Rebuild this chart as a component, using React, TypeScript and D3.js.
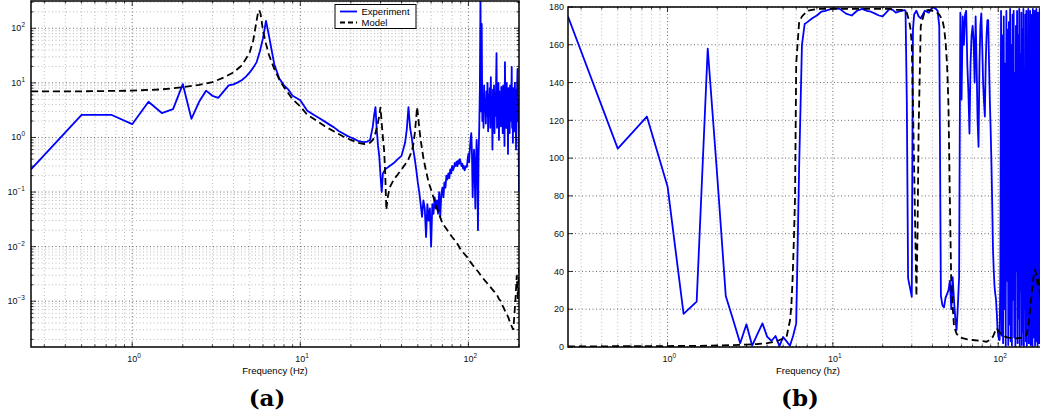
import React, { useEffect, useRef } from "react";
import * as d3 from "d3";

// measured frequency response (0.25 Hz steps at low freq, 1 Hz above 46 Hz)
const expFreq = [
  0.25, 0.5, 0.75, 1, 1.25, 1.5, 1.75, 2, 2.25, 2.5,
  2.75, 3, 3.25, 3.5, 3.75, 4, 4.25, 4.5, 4.75, 5,
  5.25, 5.5, 5.75, 6, 6.25, 6.5, 6.75, 7, 7.5, 8,
  8.5, 9, 10, 11, 12, 13, 14, 15, 16, 17,
  18, 19, 20, 21, 22, 23, 24, 25, 26, 27,
  27.5, 28, 28.5, 29, 29.5, 30, 30.5, 31, 32, 33,
  34, 35, 36, 38, 40, 42, 43, 44, 45, 46,
  47, 48, 49, 50, 51, 52, 53, 54, 55, 56,
  57, 58, 59, 60, 61, 62, 63, 64, 65, 66,
  67, 68, 69, 70, 71, 72, 73, 74, 75, 76,
  77, 78, 79, 80, 81, 82, 83, 84, 85, 86,
  87, 88, 89, 90, 91, 92, 93, 94, 95, 96,
  97, 98, 99, 100, 101, 102, 103, 104, 105, 106,
  107, 108, 109, 110, 111, 112, 113, 114, 115, 116,
  117, 118, 119, 120, 121, 122, 123, 124, 125, 126,
  127, 128, 129, 130, 131, 132, 133, 134, 135, 136,
  137, 138, 139, 140, 141, 142, 143, 144, 145, 146,
  147, 148, 149, 150, 151, 152, 153, 154, 155, 156,
  157, 158, 159, 160, 161, 162, 163, 164, 165, 166,
  167, 168, 169, 170, 171, 172, 173, 174, 175, 176,
  177, 178, 179, 180, 181, 182, 183, 184, 185, 186,
  187, 188, 189, 190, 191, 192, 193, 194, 195, 196,
  197, 198, 199, 200,
];

const expMag = [
  0.26, 2.6, 2.6, 1.75, 4.5, 2.8, 3.3, 9.5, 2.2, 4.5,
  7.2, 5.8, 5.3, 7, 9.0, 9.4, 10.2, 11.3, 13, 15.5,
  19, 24, 38, 66, 136, 75, 40, 22, 12, 9,
  7.5, 5.8, 4.8, 3.1, 2.6, 2.25, 1.95, 1.7, 1.5, 1.3,
  1.18, 1.07, 1.0, 0.93, 0.87, 0.84, 0.82, 0.84, 0.9, 1.6,
  2.6, 3.6, 1.4, 0.7, 0.45, 0.2, 0.1, 0.22, 0.26, 0.28,
  0.3, 0.32, 0.34, 0.4, 0.46, 0.8, 1.4, 3.6, 1.5, 1.0,
  0.6, 0.4, 0.25, 0.15, 0.1, 0.06, 0.035, 0.07, 0.05, 0.015,
  0.06, 0.03, 0.05, 0.01, 0.06, 0.04, 0.08, 0.05, 0.07, 0.04,
  0.1, 0.035, 0.09, 0.12, 0.08, 0.15, 0.12, 0.2, 0.17, 0.22,
  0.18, 0.26, 0.22, 0.3, 0.25, 0.28, 0.34, 0.3, 0.36, 0.3,
  0.38, 0.33, 0.4, 0.35, 0.3, 0.33, 0.27, 0.3, 0.25, 0.28,
  0.3, 0.29, 0.4, 0.5, 0.35, 0.6, 0.9, 1.2, 0.5, 0.08,
  0.3, 0.6, 0.2, 0.05, 0.4, 0.9, 0.3, 0.02, 0.5, 1.5,
  8, 400, 3, 120, 2, 6, 1.5, 9, 3, 5,
  1.8, 7, 2.5, 10, 1.3, 6, 3, 8, 1.5, 12.7,
  2, 5, 0.6, 7.5, 3, 9, 1.2, 6, 2.5, 8,
  35, 1.5, 6.5, 3, 10, 0.9, 7, 2, 5.5, 1.6,
  8.4, 3, 6, 1.2, 9, 2.2, 5, 0.7, 24, 3,
  7, 1.5, 10, 2.5, 6, 0.5, 8, 3.5, 5.5, 1.2,
  9, 2, 7, 4, 19.6, 1.5, 6, 0.8, 8, 3,
  5, 1.3, 10, 2.5, 7.5, 0.6, 6, 3, 9, 18,
  2, 5, 1.2, 0.1,
];

const expPhase = [
  175, 105, 122, 85, 17.5, 24, 158, 90, 27, 14,
  2, 12, 0.7, 7, 12.5, 5.5, 3.2, 5.8, 0.5, 5.3,
  3, 0.7, 6, 12.5, 95, 160, 171, 172, 174, 175.5,
  177.5, 178, 179.3, 179, 176.5, 175.5, 178, 179, 178, 177.5,
  176.5, 175.5, 175, 177, 179, 178.5, 177, 177.5, 178, 178.4,
  178, 130, 36.5, 33, 30, 26.6, 168, 176, 178, 175,
  174, 176, 178, 177, 180, 179, 178, 170, 27, 22,
  21, 26, 28, 30, 35, 20, 37, 25, 15, 9,
  22, 37, 177, 131, 175, 160, 176, 178, 150, 135,
  113, 150, 165, 170, 162, 140, 175, 150, 120, 106,
  150, 170, 176.6, 160, 140, 130, 122, 150, 165, 173,
  173, 150, 130, 115, 97, 75, 51, 40, 32, 28,
  25, 18, 10, 6, 4, 3.7, 40, 178, 6, 165,
  2, 175, 20, 150, 0.5, 178, 35, 168, 1, 172,
  12, 179, 3, 160, 0.8, 176, 25, 178, 5, 145,
  0.5, 170, 40, 178, 2, 165, 15, 179, 0.3, 155,
  30, 177, 1, 168, 8, 179, 0.5, 140, 20, 176,
  3, 178, 0.5, 160, 45, 179, 2, 170, 10, 178,
  1, 150, 25, 176, 0.5, 179, 5, 165, 60, 178,
  0.8, 172, 15, 179, 3, 158, 0.5, 177, 30, 170,
  2, 179, 10, 165, 0.5, 178, 40, 175, 1, 179,
  12, 168, 0.6, 178, 5, 160, 20, 179, 1, 176,
  8, 178, 0.5, 170,
];

// model response
const modelFreq = [
  0.25, 0.5, 1, 1.5, 2, 2.5, 3, 3.5, 4, 4.5,
  5, 5.25, 5.5, 5.6, 5.7, 5.8, 5.9, 6, 6.25, 6.5,
  7, 7.5, 8, 9, 10, 11, 12, 14, 16, 18,
  20, 22, 24, 26, 27, 28, 29, 29.5, 30, 30.5,
  31, 31.5, 32, 32.5, 33, 34, 36, 38, 40, 42,
  44, 46, 47, 48, 49, 49.5, 50, 51, 52, 54,
  56, 58, 60, 65, 70, 80, 85, 90, 93, 96,
  98, 100, 103, 106, 110, 115, 120, 130, 140, 148,
  152, 156, 160, 164, 167, 170, 173, 175, 180, 185,
  188, 191, 194, 197, 200,
];

const modelMag = [
  7.0, 7.0, 7.2, 7.6, 8.3, 9.2, 10.3, 12.5, 15.5, 21,
  36, 60, 140, 190, 215, 185, 130, 90, 52, 33,
  18, 11.5, 8.3, 5.0, 3.7, 2.6, 2.2, 1.6, 1.27, 1.04,
  0.9, 0.8, 0.76, 0.8, 0.9, 1.2, 1.9, 2.5, 3.6, 1.8,
  1.0, 0.6, 0.22, 0.047, 0.075, 0.12, 0.17, 0.21, 0.26, 0.32,
  0.4, 0.55, 0.75, 1.2, 2.4, 3.6, 2.8, 1.5, 0.9, 0.42,
  0.24, 0.15, 0.11, 0.05, 0.027, 0.015, 0.012, 0.0088, 0.0078, 0.007,
  0.0065, 0.0058, 0.0052, 0.0046, 0.004, 0.0034, 0.0028, 0.0021, 0.0016, 0.0013,
  0.0011, 0.001, 0.00082, 0.0007, 0.0006, 0.00056, 0.0005, 0.00045, 0.00036, 0.0003,
  0.0006, 0.0012, 0.003, 0.0011, 0.004,
];

const modelPhase = [
  0.3, 0.4, 0.5, 0.6, 0.8, 1.0, 1.3, 1.6, 2.0, 2.8,
  4.5, 5.5, 14, 21, 35, 55, 78, 150, 172, 175,
  178, 178.5, 179, 179, 179, 179, 179, 179, 179, 179,
  179, 179, 178.5, 178.5, 178, 177, 172, 168, 160, 128,
  95, 60, 27, 60, 115, 170, 178, 178.5, 178, 177.5,
  176, 173, 169, 162, 150, 140, 128, 78, 33, 11,
  7, 5.5, 4.8, 4, 3.7, 3.2, 2.8, 4, 5.5, 8.5,
  10, 8.5, 7.2, 6.5, 5.5, 5, 4.8, 4.6, 5, 6.3,
  11, 20, 30, 38, 41, 38, 33, 36, 25, 32,
  15, 28, 20, 35, 22,
];

const magTickExps = [-3, -2, -1, 0, 1, 2];
const freqTickExps = [0, 1, 2];
const phaseTicks = [0, 20, 40, 60, 80, 100, 120, 140, 160, 180];
const seriesNames = ["Experiment", "Model"];

const sans = "'Liberation Sans', Arial, Helvetica, sans-serif";
const serif = "'DejaVu Serif', 'Liberation Serif', serif";

function isDecade(v: number) {
  const l = Math.log10(v);
  return Math.abs(l - Math.round(l)) < 1e-6;
}

function expText(e: number) {
  return e < 0 ? "\u2212" + -e : String(e);
}

function gridLines(g: any, box: any, xs: number[], ys: number[], color: string) {
  g.append("g").selectAll("line").data(xs).join("line")
    .attr("x1", (d: number) => d).attr("x2", (d: number) => d)
    .attr("y1", box.top).attr("y2", box.bottom)
    .attr("stroke", color).attr("stroke-width", 0.8).attr("stroke-dasharray", "1 2.5");
  g.append("g").selectAll("line").data(ys).join("line")
    .attr("y1", (d: number) => d).attr("y2", (d: number) => d)
    .attr("x1", box.left).attr("x2", box.right)
    .attr("stroke", color).attr("stroke-width", 0.8).attr("stroke-dasharray", "1 2.5");
}

function tickMarks(g: any, box: any, xs: number[], ys: number[], len: number) {
  const t = g.append("g").attr("stroke", "#000").attr("stroke-width", 0.8);
  xs.forEach((x) => {
    t.append("line").attr("x1", x).attr("x2", x).attr("y1", box.bottom).attr("y2", box.bottom - len);
    t.append("line").attr("x1", x).attr("x2", x).attr("y1", box.top).attr("y2", box.top + len);
  });
  ys.forEach((y) => {
    t.append("line").attr("y1", y).attr("y2", y).attr("x1", box.left).attr("x2", box.left + len);
    t.append("line").attr("y1", y).attr("y2", y).attr("x1", box.right).attr("x2", box.right - len);
  });
}

function frame(g: any, box: any) {
  g.append("rect")
    .attr("x", box.left).attr("y", box.top)
    .attr("width", box.right - box.left).attr("height", box.bottom - box.top)
    .attr("fill", "none").attr("stroke", "#000").attr("stroke-width", 1.5);
}

function powLabel(g: any, x: number, y: number, e: number, anchor: string) {
  const t = g.append("text").attr("x", x).attr("y", y).attr("text-anchor", anchor)
    .attr("font-family", sans).attr("font-size", 9).attr("fill", "#111");
  t.append("tspan").text("10");
  t.append("tspan").attr("dy", -4).attr("font-size", 6.5).text(expText(e));
}

export default function App() {
  const ref = useRef<SVGSVGElement>(null);

  useEffect(() => {
    const svg = d3.select(ref.current);
    svg.selectAll("*").remove();
    const defs = svg.append("defs");

    const expA = d3.zip(expFreq, expMag);
    const modA = d3.zip(modelFreq, modelMag);
    const expB = d3.zip(expFreq, expPhase);
    const modB = d3.zip(modelFreq, modelPhase);

    // ---------- (a) magnitude ----------
    const a = { left: 31, right: 519, top: 1, bottom: 347 };
    const xa = d3.scaleLog().domain([0.25, 200]).range([a.left, a.right]);
    const ya = d3.scaleLog().domain([1.45e-4, 316]).range([a.bottom, a.top]);
    const ga = svg.append("g");

    const xaAll = xa.ticks();
    const yaAll = ya.ticks();
    const xaMinor = xaAll.filter((v) => !isDecade(v)).map(xa);
    const xaMajor = xaAll.filter(isDecade).map(xa);
    const yaMinor = yaAll.filter((v) => !isDecade(v)).map(ya);
    const yaMajor = yaAll.filter(isDecade).map(ya);

    gridLines(ga, a, xaMinor, yaMinor, "#aaa");
    gridLines(ga, a, xaMajor, yaMajor, "#444");

    defs.append("clipPath").attr("id", "clipA").append("rect")
      .attr("x", a.left).attr("y", a.top).attr("width", a.right - a.left).attr("height", a.bottom - a.top);

    const lineA = d3.line<any>().x((d) => xa(d[0])).y((d) => ya(d[1]));
    const plotA = ga.append("g").attr("clip-path", "url(#clipA)");
    plotA.append("path").attr("d", lineA(expA)).attr("fill", "none")
      .attr("stroke", "#0000ff").attr("stroke-width", 1.8).attr("stroke-linejoin", "round");
    plotA.append("path").attr("d", lineA(modA)).attr("fill", "none")
      .attr("stroke", "#000").attr("stroke-width", 1.8).attr("stroke-dasharray", "7 4");

    tickMarks(ga, a, xaMinor, yaMinor, 2.5);
    tickMarks(ga, a, xaMajor, yaMajor, 5);
    frame(ga, a);

    magTickExps.forEach((e) => powLabel(ga, a.left - 6, ya(Math.pow(10, e)) + 3, e, "end"));
    freqTickExps.forEach((e) => powLabel(ga, xa(Math.pow(10, e)) - 5, 362, e, "start"));

    ga.append("text").attr("x", (a.left + a.right) / 2).attr("y", 374)
      .attr("text-anchor", "middle").attr("font-family", sans).attr("font-size", 9.5)
      .text("Frequency (Hz)");
    ga.append("text").attr("x", 267).attr("y", 406)
      .attr("text-anchor", "middle").attr("font-family", serif).attr("font-weight", "bold")
      .attr("font-size", 23).text("(a)");

    // legend
    const lg = ga.append("g");
    lg.append("rect").attr("x", 335).attr("y", 4.5).attr("width", 81).attr("height", 24)
      .attr("fill", "#fff").attr("stroke", "#000").attr("stroke-width", 1);
    seriesNames.forEach((name, i) => {
      const y = 11.5 + i * 11;
      lg.append("line").attr("x1", 340).attr("x2", 357).attr("y1", y).attr("y2", y)
        .attr("stroke", i === 0 ? "#0000ff" : "#000").attr("stroke-width", 1.8)
        .attr("stroke-dasharray", i === 0 ? null : "5 3");
      lg.append("text").attr("x", 361.5).attr("y", y + 3.3)
        .attr("font-family", sans).attr("font-size", 9.5).text(name);
    });

    // ---------- (b) phase ----------
    const b = { left: 568, right: 1048, top: 7, bottom: 347 };
    const xb = d3.scaleLog().domain([0.25, 200]).range([b.left, b.right]);
    const yb = d3.scaleLinear().domain([0, 180]).range([b.bottom, b.top]);
    const gb = svg.append("g");

    const xbAll = xb.ticks();
    const xbMinor = xbAll.filter((v) => !isDecade(v)).map(xb);
    const xbMajor = xbAll.filter(isDecade).map(xb);
    const ybMajor = phaseTicks.map(yb);

    gridLines(gb, b, xbMinor, [], "#aaa");
    gridLines(gb, b, xbMajor, ybMajor, "#444");

    defs.append("clipPath").attr("id", "clipB").append("rect")
      .attr("x", b.left).attr("y", b.top).attr("width", b.right - b.left).attr("height", b.bottom - b.top);

    const lineB = d3.line<any>().x((d) => xb(d[0])).y((d) => yb(d[1]));
    const plotB = gb.append("g").attr("clip-path", "url(#clipB)");
    plotB.append("path").attr("d", lineB(expB)).attr("fill", "none")
      .attr("stroke", "#0000ff").attr("stroke-width", 1.8).attr("stroke-linejoin", "round");
    plotB.append("path").attr("d", lineB(modB)).attr("fill", "none")
      .attr("stroke", "#000").attr("stroke-width", 1.8).attr("stroke-dasharray", "7 4");

    tickMarks(gb, b, xbMinor, [], 2.5);
    tickMarks(gb, b, xbMajor, ybMajor, 5);
    frame(gb, b);

    phaseTicks.forEach((v) => {
      gb.append("text").attr("x", b.left - 4).attr("y", yb(v) + 3.2)
        .attr("text-anchor", "end").attr("font-family", sans).attr("font-size", 9)
        .attr("fill", "#111").text(String(v));
    });
    freqTickExps.forEach((e) => powLabel(gb, xb(Math.pow(10, e)) - 5, 362, e, "start"));

    gb.append("text").attr("x", (b.left + b.right) / 2).attr("y", 374)
      .attr("text-anchor", "middle").attr("font-family", sans).attr("font-size", 9.5)
      .text("Frequency (hz)");
    gb.append("text").attr("x", 800).attr("y", 406)
      .attr("text-anchor", "middle").attr("font-family", serif).attr("font-weight", "bold")
      .attr("font-size", 23).text("(b)");
  }, []);

  return (
    <svg
      ref={ref}
      width={1040}
      height={419}
      style={{ position: "absolute", left: 0, top: 0, background: "#fff" }}
    />
  );
}
